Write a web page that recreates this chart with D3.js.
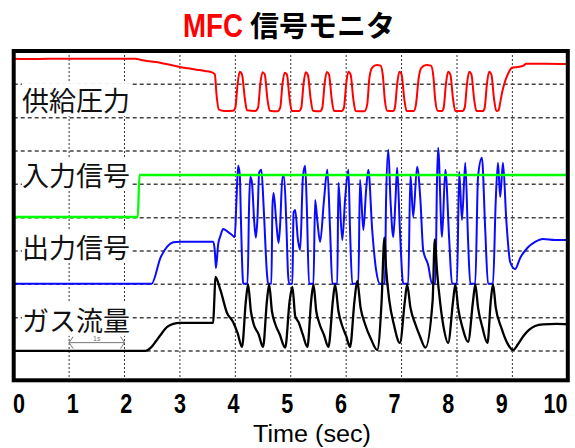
<!DOCTYPE html>
<html>
<head>
<meta charset="utf-8">
<script src="https://cdn.jsdelivr.net/npm/d3@7/dist/d3.min.js"></script>
<style>
  body { margin: 0; background: #fff; }
</style>
</head>
<body>
<div id="chart"></div>
<script>
// [time (sec), level in scope divisions: 0 = bottom, 10 = top]
var pressure = [
  [0, 9.77], [0.4, 9.76], [0.9, 9.77], [1.6, 9.77], [2.2, 9.77], [2.3, 9.73], [2.45, 9.69], [2.6, 9.66],
  [2.75, 9.61], [2.9, 9.56], [3.0, 9.52], [3.15, 9.48], [3.3, 9.44], [3.45, 9.4], [3.58, 9.36], [3.63, 9.3],
  [3.66, 8.7], [3.7, 8.25], [3.8, 8.2], [3.96, 8.21],
  [4.0, 8.3], [4.04, 9.0], [4.08, 9.38], [4.12, 9.3], [4.17, 8.6], [4.21, 8.22], [4.36, 8.2],
  [4.41, 8.3], [4.45, 9.0], [4.49, 9.36], [4.53, 9.3], [4.58, 8.55], [4.62, 8.21], [4.76, 8.19],
  [4.81, 8.3], [4.85, 9.0], [4.89, 9.35], [4.93, 9.3], [4.98, 8.55], [5.02, 8.2], [5.15, 8.2],
  [5.19, 8.3], [5.23, 9.0], [5.27, 9.36], [5.31, 9.28], [5.36, 8.55], [5.4, 8.21], [5.53, 8.19],
  [5.57, 8.3], [5.61, 9.0], [5.65, 9.37], [5.69, 9.3], [5.74, 8.55], [5.78, 8.2], [5.92, 8.2],
  [5.96, 8.3], [6.0, 9.0], [6.04, 9.38], [6.08, 9.3], [6.13, 8.55], [6.17, 8.2], [6.33, 8.19],
  [6.38, 8.4], [6.42, 9.2], [6.47, 9.5], [6.55, 9.58], [6.62, 9.56], [6.66, 9.3], [6.7, 8.5], [6.74, 8.21], [6.85, 8.2],
  [6.88, 8.3], [6.92, 9.0], [6.96, 9.38], [7.0, 9.3], [7.05, 8.55], [7.09, 8.2], [7.22, 8.2],
  [7.26, 8.4], [7.31, 9.2], [7.36, 9.5], [7.45, 9.58], [7.53, 9.56], [7.57, 9.3], [7.61, 8.5], [7.65, 8.21], [7.73, 8.2],
  [7.76, 8.3], [7.8, 9.0], [7.84, 9.38], [7.88, 9.3], [7.93, 8.55], [7.97, 8.2], [8.1, 8.2],
  [8.14, 8.3], [8.18, 9.0], [8.22, 9.38], [8.26, 9.3], [8.31, 8.55], [8.35, 8.2], [8.47, 8.2],
  [8.5, 8.3], [8.54, 9.0], [8.58, 9.38], [8.62, 9.3], [8.67, 8.55], [8.71, 8.2],
  [8.75, 8.22], [8.78, 8.45], [8.82, 8.8], [8.88, 9.15], [8.94, 9.38], [8.99, 9.5], [9.1, 9.52],
  [9.2, 9.56], [9.25, 9.62], [9.6, 9.62], [10, 9.61]
];

var inputSignal = [
  [0, 5.02], [2.24, 5.02], [2.27, 6.28], [10, 6.28]
];

var outputSignal = [
  [0, 3.02], [2.49, 3.02], [2.65, 3.8], [2.77, 4.13], [2.88, 4.26], [3.0, 4.28], [3.6, 4.28], [3.63, 4.0],
  [3.65, 3.49], [3.69, 4.2], [3.73, 4.45], [3.78, 4.66], [3.87, 4.57], [3.96, 4.45], [3.99, 4.42],
  [4.02, 5.5], [4.05, 6.56], [4.08, 6.3], [4.1, 5.0], [4.13, 3.3], [4.14, 3.02], [4.22, 3.02],
  [4.25, 5.5], [4.27, 6.23], [4.3, 6.05], [4.34, 4.9], [4.37, 4.4], [4.4, 5.0], [4.43, 6.35], [4.47, 6.44],
  [4.51, 5.35], [4.57, 3.34], [4.59, 3.02], [4.65, 3.02],
  [4.67, 5.35], [4.69, 5.74], [4.74, 4.84], [4.78, 4.24], [4.81, 4.84], [4.85, 6.23], [4.88, 6.23],
  [4.92, 4.84], [4.95, 3.34], [4.97, 3.02], [5.03, 3.02],
  [5.05, 5.14], [5.08, 5.23], [5.13, 4.33], [5.17, 4.03], [5.22, 6.23], [5.26, 6.56], [5.29, 5.32],
  [5.33, 3.02], [5.41, 3.02],
  [5.44, 5.53], [5.48, 4.9], [5.53, 4.27], [5.6, 5.53], [5.66, 6.44], [5.71, 4.63], [5.75, 3.02], [5.84, 3.02],
  [5.86, 6.05], [5.93, 4.33], [5.98, 5.53], [6.04, 6.44], [6.07, 4.63], [6.11, 3.02], [6.22, 3.02],
  [6.25, 6.14], [6.31, 4.63], [6.36, 5.83], [6.4, 6.44], [6.47, 4.63], [6.54, 3.43], [6.61, 3.02], [6.7, 3.02],
  [6.72, 5.53], [6.76, 7.04], [6.8, 5.53], [6.85, 4.42], [6.89, 5.53], [6.92, 6.5], [6.97, 4.63],
  [7.03, 3.02], [7.12, 3.02],
  [7.16, 6.29], [7.21, 5.02], [7.28, 6.53], [7.34, 5.53], [7.39, 4.03], [7.48, 3.58], [7.55, 3.02], [7.61, 3.02],
  [7.64, 6.14], [7.66, 7.1], [7.73, 4.42], [7.79, 6.44], [7.86, 4.33], [7.91, 3.02], [8.0, 3.02],
  [8.04, 6.38], [8.09, 4.93], [8.15, 6.65], [8.2, 4.33], [8.24, 3.02], [8.33, 3.02],
  [8.38, 6.23], [8.45, 6.8], [8.51, 4.63], [8.56, 3.02], [8.65, 3.02],
  [8.7, 5.53], [8.74, 6.65], [8.78, 5.62], [8.83, 6.65], [8.89, 4.93], [8.96, 3.67], [9.05, 3.46],
  [9.14, 3.79], [9.27, 4.09], [9.41, 4.27], [9.55, 4.36], [9.77, 4.33], [10, 4.33]
];

var gasFlow = [
  [0, 1.0], [2.38, 1.0], [2.47, 1.09], [2.57, 1.3], [2.65, 1.48], [2.77, 1.72], [2.88, 1.81], [3.0, 1.84],
  [3.6, 1.84], [3.62, 2.5], [3.64, 3.22], [3.73, 2.83], [3.85, 2.14], [3.96, 1.87], [4.04, 1.54], [4.12, 1.12],
  [4.19, 2.5], [4.23, 3.0], [4.28, 2.2], [4.33, 1.81], [4.42, 1.5], [4.5, 1.12],
  [4.57, 2.5], [4.61, 3.0], [4.66, 2.2], [4.72, 1.81], [4.8, 1.5], [4.9, 1.1],
  [4.98, 2.5], [5.03, 2.92], [5.08, 2.05], [5.14, 1.87], [5.22, 1.48], [5.3, 1.12],
  [5.37, 2.53], [5.41, 3.0], [5.46, 2.2], [5.52, 1.81], [5.6, 1.48], [5.68, 1.12],
  [5.76, 2.5], [5.8, 3.0], [5.86, 2.2], [5.93, 1.75], [6.0, 1.45], [6.07, 1.12],
  [6.15, 2.5], [6.2, 3.1], [6.26, 2.3], [6.34, 1.81], [6.45, 1.35], [6.56, 1.03],
  [6.64, 2.5], [6.69, 4.4], [6.72, 3.5], [6.78, 2.5], [6.86, 1.8], [6.97, 1.24],
  [7.06, 2.5], [7.1, 3.0], [7.16, 2.3], [7.25, 1.8], [7.33, 1.45], [7.43, 1.1],
  [7.56, 2.5], [7.6, 4.35], [7.64, 3.4], [7.7, 2.4], [7.76, 1.7], [7.84, 1.24],
  [7.93, 2.5], [7.97, 3.0], [8.02, 2.3], [8.1, 1.7], [8.2, 1.27],
  [8.29, 2.5], [8.33, 3.0], [8.38, 2.3], [8.46, 1.7], [8.55, 1.24],
  [8.61, 2.5], [8.65, 3.0], [8.7, 2.3], [8.8, 1.7], [8.92, 1.2], [9.01, 1.03], [9.1, 1.2],
  [9.2, 1.45], [9.3, 1.63], [9.41, 1.75], [9.55, 1.8], [9.8, 1.81], [10, 1.8]
];

var traceNames = ["供給圧力", "入力信号", "出力信号", "ガス流量"];
var traceNameLevels = [8.54, 6.3, 4.14, 1.95];
var tickLabels = ["0", "1", "2", "3", "4", "5", "6", "7", "8", "9", "10"];
var gridTimes = [1, 2, 3, 4, 5, 6, 7, 8, 9];
var gridLevels = [1, 2, 3, 4, 5, 6, 7, 8, 9];

var width = 575, height = 448;

var svg = d3.select("#chart")
  .append("svg")
    .attr("width", width)
    .attr("height", height);

var x = d3.scaleLinear().domain([0, 10]).range([13.7, 567.8]);
var y = d3.scaleLinear().domain([0, 10]).range([384.3, 51]);
// the time labels under the scope are spaced a little tighter than the grid
var xLabel = d3.scaleLinear().domain([0, 10]).range([18.5, 555]);

var frameBottom = y(0) - 4;

svg.append("defs").append("clipPath")
    .attr("id", "plotclip")
  .append("rect")
    .attr("x", x(0))
    .attr("y", y(10))
    .attr("width", x(10) - x(0))
    .attr("height", frameBottom - y(10));

// grid
svg.append("g")
  .selectAll("line")
  .data(gridTimes)
  .join("line")
    .attr("x1", d => x(d)).attr("x2", d => x(d))
    .attr("y1", y(10)).attr("y2", frameBottom)
    .attr("stroke", "#333")
    .attr("stroke-width", 1)
    .attr("stroke-dasharray", "2,2");

svg.append("g")
  .selectAll("line")
  .data(gridLevels)
  .join("line")
    .attr("x1", x(0)).attr("x2", x(10))
    .attr("y1", d => y(d)).attr("y2", d => y(d))
    .attr("stroke", "#444")
    .attr("stroke-width", 1.5)
    .attr("stroke-dasharray", "4,3");

// traces
var line = d3.line()
  .x(d => x(d[0]))
  .y(d => y(d[1]))
  .curve(d3.curveMonotoneX);

var traces = [
  { data: outputSignal, color: "#0a0aff", w: 2 },
  { data: gasFlow, color: "#000", w: 2.3 },
  { data: inputSignal, color: "#00ff00", w: 2.3 },
  { data: pressure, color: "#ff0000", w: 2 }
];

var tg = svg.append("g").attr("clip-path", "url(#plotclip)");
traces.forEach(function (t) {
  tg.append("path")
    .datum(t.data)
    .attr("d", line)
    .attr("fill", "none")
    .attr("stroke", t.color)
    .attr("stroke-width", t.w)
    .attr("stroke-linejoin", "round");
});

// trace names
var names = svg.append("g");
traceNames.forEach(function (n, i) {
  var g = names.append("g");
  var bg = g.append("rect").attr("fill", "#fff");
  var txt = g.append("text")
    .attr("x", 22)
    .attr("y", y(traceNameLevels[i]))
    .attr("dominant-baseline", "central")
    .style("font-family", "'Noto Sans CJK JP', sans-serif")
    .style("font-size", "27px")
    .attr("fill", "#111")
    .text(n);
  var b = txt.node().getBBox();
  bg.attr("x", b.x).attr("y", b.y + 3).attr("width", b.width).attr("height", b.height - 6);
});

// 1 s span marker
var arrowY = y(1.25);
var mk = svg.append("g").attr("stroke", "#777").attr("stroke-width", 1).attr("fill", "none");
mk.append("line").attr("x1", x(1)).attr("x2", x(2)).attr("y1", arrowY).attr("y2", arrowY);
mk.append("path").attr("d", "M" + (x(1) + 4) + "," + (arrowY - 6) + "L" + x(1) + "," + arrowY + "L" + (x(1) + 4) + "," + (arrowY + 6));
mk.append("path").attr("d", "M" + (x(2) - 4) + "," + (arrowY - 6) + "L" + x(2) + "," + arrowY + "L" + (x(2) - 4) + "," + (arrowY + 6));
svg.append("text")
  .attr("x", x(1.5))
  .attr("y", arrowY - 1.5)
  .attr("text-anchor", "middle")
  .style("font-family", "'Liberation Sans', sans-serif")
  .style("font-size", "7px")
  .attr("fill", "#777")
  .text("1s");

// frame
svg.append("rect")
  .attr("x", x(0))
  .attr("y", y(10))
  .attr("width", x(10) - x(0))
  .attr("height", frameBottom - y(10))
  .attr("fill", "none")
  .attr("stroke", "#000")
  .attr("stroke-width", 4);

// time axis labels (narrow bold digits)
var axis = svg.append("g")
  .attr("transform", "translate(0," + (frameBottom + 6) + ")")
  .call(d3.axisBottom(xLabel).tickValues(d3.range(11)).tickFormat((d, i) => tickLabels[i]).tickSize(0));
axis.select(".domain").remove();
axis.selectAll("text")
  .attr("y", 0)
  .attr("dy", "0.97em")
  .attr("fill", "#000")
  .attr("textLength", d => tickLabels[d].length * 12)
  .attr("lengthAdjust", "spacingAndGlyphs")
  .style("font-family", "'Liberation Sans', sans-serif")
  .style("font-weight", "bold")
  .style("font-size", "28px");

svg.append("text")
  .attr("x", 312)
  .attr("y", 442)
  .attr("text-anchor", "middle")
  .attr("textLength", 118)
  .attr("lengthAdjust", "spacingAndGlyphs")
  .style("font-family", "'Liberation Sans', sans-serif")
  .style("font-size", "23px")
  .attr("fill", "#000")
  .text("Time (sec)");

// title
var title = svg.append("text")
  .attr("y", 37)
  .style("font-weight", "bold");
title.append("tspan")
  .attr("x", 183)
  .attr("fill", "#ff0000")
  .attr("textLength", 60)
  .attr("lengthAdjust", "spacingAndGlyphs")
  .style("font-family", "'Liberation Sans', sans-serif")
  .style("font-size", "33px")
  .text("MFC");
title.append("tspan")
  .attr("x", 250)
  .attr("fill", "#000")
  .style("font-family", "'Noto Sans CJK JP', sans-serif")
  .style("font-size", "29px")
  .text("信号モニタ");
</script>
</body>
</html>
